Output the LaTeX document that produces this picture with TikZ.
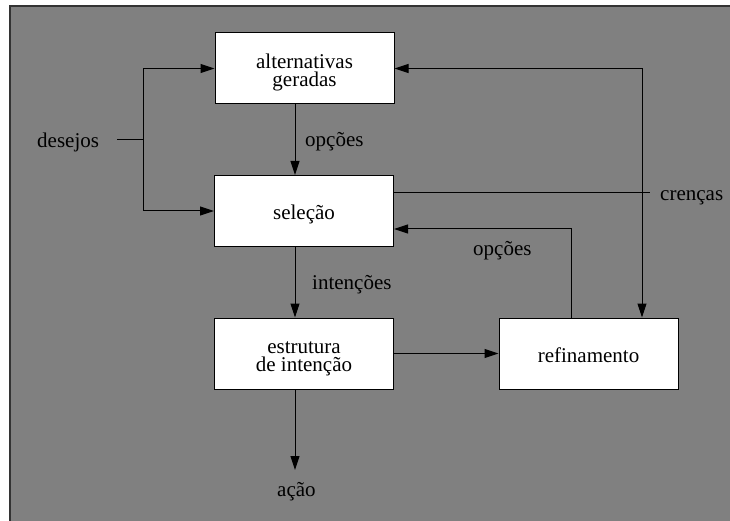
\documentclass[tikz,border=0pt]{standalone}
\usepackage{fontspec}
\setmainfont{Liberation Serif}
\usetikzlibrary{arrows.meta}
\definecolor{bggray}{RGB}{128,128,128}
\begin{document}
\begin{tikzpicture}[x=1pt,y=-1pt,
  box/.style={draw=black, fill=white, line width=1pt, minimum width=179pt, minimum height=71pt, inner sep=0pt, align=center, font=\fontsize{21}{18}\selectfont},
  one/.style={text height=18pt, text depth=0pt},
  two/.style={text height=36pt, text depth=0pt},
  lbl/.style={font=\fontsize{21}{18}\selectfont, inner sep=0pt, anchor=base west},
  conn/.style={line width=1pt},
  tip/.tip={Triangle[length=14pt,width=9pt]},
  arr/.style={conn, -tip},
]
\useasboundingbox (0,0) rectangle (730,521);
\clip (0,0) rectangle (730,521);
\fill[white] (0,0) rectangle (730,521);
\fill[bggray] (10,6) rectangle (740,530);
\draw[line width=1.5pt, black!80] (10,530) -- (10,6) -- (740,6);

\node[box,two] (alt) at (304.5,68.5) {alternativas\\geradas};
\node[box,one] (sel) at (304,211) {seleção};
\node[box,two] (est) at (304,353.5) {estrutura\\de intenção};
\node[box,one] (ref) at (588.5,353.5) {refinamento};

\node[lbl] (des) at (37,148) {desejos};
\node[lbl] (op1) at (305,147) {opções};
\node[lbl] (cre) at (660,201) {crenças};
\node[lbl] (op2) at (473,255) {opções};
\node[lbl] (int) at (312,289) {intenções};
\node[lbl] (acao) at (277,496) {ação};

\coordinate (xa) at (295,0);
\coordinate (ds) at (117,140);
\coordinate (jn) at (143,140);
\coordinate (xc) at (642,0);
\coordinate (xo) at (571,0);
\coordinate (ycr) at (0,193);
\coordinate (yop) at (0,229);
\coordinate (cend) at (650,193);
\coordinate (aend) at (295,470);

\draw[conn] (ds) -- (jn);
\draw[arr] (jn) |- (alt.west);
\draw[arr] (jn) |- (sel.west);
\draw[arr] (alt.south -| xa) -- (sel.north -| xa);
\draw[conn] (sel.east |- ycr) -- (cend);
\draw[conn, tip-tip] (alt.east) -| (ref.north -| xc);
\draw[arr] (ref.north -| xo) |- (sel.east |- yop);
\draw[arr] (sel.south -| xa) -- (est.north -| xa);
\draw[arr] (est.east) -- (ref.west);
\draw[arr] (est.south -| xa) -- (aend);
\end{tikzpicture}
\end{document}
